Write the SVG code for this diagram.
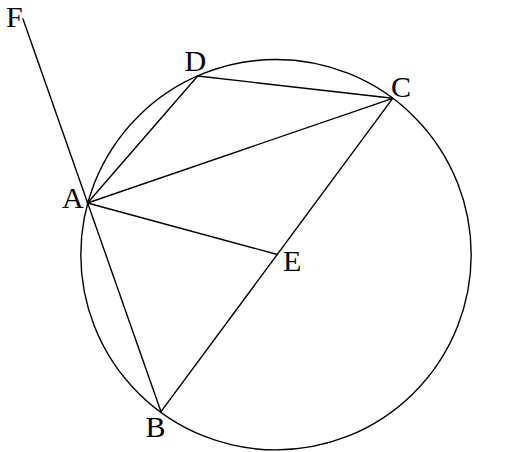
<svg xmlns="http://www.w3.org/2000/svg" width="521" height="452" viewBox="0 0 521 452">
<style>
.ln{stroke:#000;stroke-width:1.4;fill:none;stroke-linecap:round}
.lb{font-family:"Liberation Serif","Times New Roman",serif;font-size:30px;fill:#000}
</style>
<rect width="521" height="452" fill="#fff"/>
<g id="connectors">
<circle class="ln" cx="276" cy="254.7" r="195.2"/>
<line class="ln" x1="23" y1="19" x2="161" y2="411.7"/>
<line class="ln" x1="87.5" y1="203" x2="197.7" y2="76"/>
<line class="ln" x1="197.7" y1="76" x2="392.7" y2="98.3"/>
<line class="ln" x1="87.5" y1="203" x2="392.7" y2="98.3"/>
<line class="ln" x1="87.5" y1="203" x2="277.5" y2="254.5"/>
<line class="ln" x1="161" y1="411.7" x2="392.7" y2="98.3"/>
</g>
<g id="F"><text class="lb" x="6" y="27">F</text></g>
<g id="D"><text class="lb" x="184.5" y="70.5">D</text></g>
<g id="C"><text class="lb" x="391" y="97">C</text></g>
<g id="A"><text class="lb" x="62" y="207.5">A</text></g>
<g id="E"><text class="lb" x="283" y="270.5">E</text></g>
<g id="B"><text class="lb" x="145.5" y="436.5">B</text></g>
</svg>
